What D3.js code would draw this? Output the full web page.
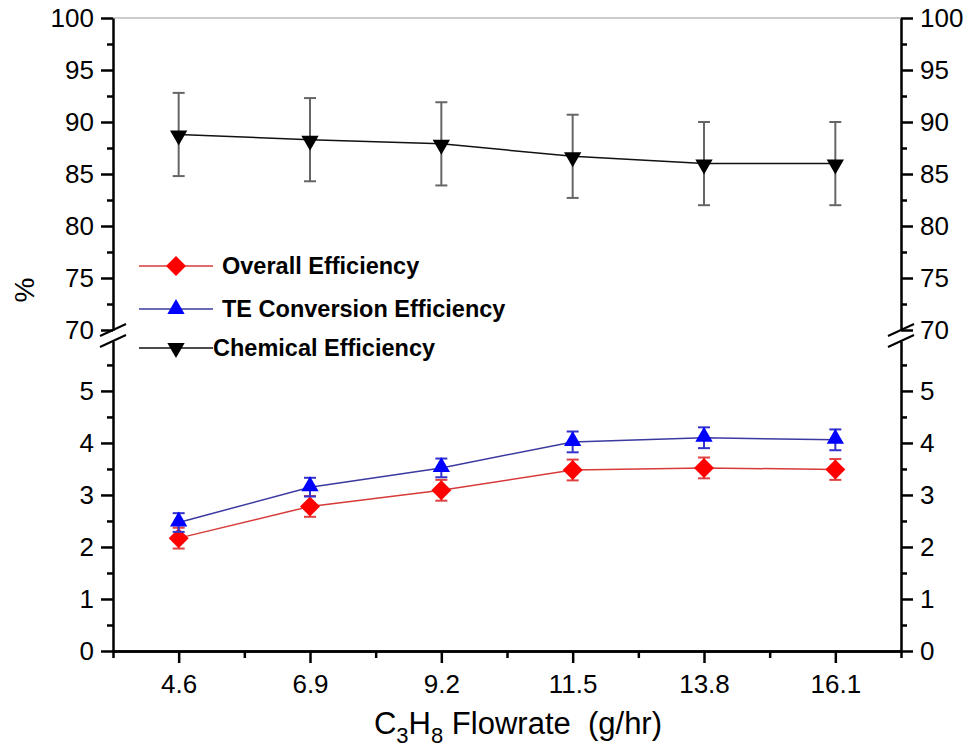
<!DOCTYPE html>
<html>
<head>
<meta charset="utf-8">
<script src="https://cdn.jsdelivr.net/npm/d3@7"></script>
<style>
  body { margin: 0; background: #fff; }
  svg { display: block; font-family: "Liberation Sans", Arial, sans-serif; }
  .axis path, .axis line { stroke: #000; stroke-width: 2.5; }
  .axis text { font-size: 26px; fill: #000; }
</style>
</head>
<body>
<svg id="chart" width="967" height="749"></svg>
<script>
const flowrate = [4.6, 6.9, 9.2, 11.5, 13.8, 16.1];
const overall = [2.17, 2.78, 3.09, 3.48, 3.52, 3.49];
const overallErr = [0.2, 0.2, 0.2, 0.2, 0.2, 0.2];
const teConversion = [2.47, 3.15, 3.52, 4.02, 4.1, 4.06];
const teErr = [0.18, 0.18, 0.18, 0.2, 0.2, 0.2];
const chemical = [88.8, 88.3, 87.9, 86.7, 86.0, 86.0];
const chemicalErr = [4, 4, 4, 4, 4, 4];
const upperTicks = [70, 75, 80, 85, 90, 95, 100];
const upperMinor = [72.5, 77.5, 82.5, 87.5, 92.5, 97.5];
const lowerTicks = [0, 1, 2, 3, 4, 5];
const lowerMinor = [0.5, 1.5, 2.5, 3.5, 4.5, 5.5];
const xMinor = [3.45, 5.75, 8.05, 10.35, 12.65, 14.95, 17.25];
const legendNames = ["Overall Efficiency", "TE Conversion Efficiency", "Chemical Efficiency"];

const svg = d3.select("#chart");
const left = 113, right = 901, bottom = 651;

const x = d3.scaleLinear().domain([3.45, 17.25]).range([left, right]);
const yUp = d3.scaleLinear().domain([70, 100]).range([330, 18]);
const yLow = d3.scaleLinear().domain([0, 5.96]).range([bottom, 341]);

// top frame line
svg.append("line")
  .attr("x1", left).attr("x2", right).attr("y1", 18).attr("y2", 18)
  .attr("stroke", "#999").attr("stroke-width", 1.2);

// x axis
svg.append("g").attr("class", "axis").attr("transform", `translate(0,${bottom})`)
  .call(d3.axisBottom(x).tickValues(flowrate).tickSize(12).tickPadding(12).tickSizeOuter(0)
    .tickFormat(d3.format(".1f")));
svg.append("g").attr("class", "axis").attr("transform", `translate(0,${bottom})`)
  .call(d3.axisBottom(x).tickValues(xMinor).tickSize(7).tickFormat("").tickSizeOuter(0));

function yAxes(pos, side) {
  const make = side === "left" ? d3.axisLeft : d3.axisRight;
  [[yUp, upperTicks, upperMinor], [yLow, lowerTicks, lowerMinor]].forEach(([s, major, minor]) => {
    const g = svg.append("g").attr("class", "axis").attr("transform", `translate(${pos},0)`);
    g.call(make(s).tickValues(major).tickSize(12).tickPadding(7).tickSizeOuter(0).tickFormat(d3.format("d")));
    g.append("g").call(make(s).tickValues(minor).tickSize(6).tickFormat("").tickSizeOuter(0))
      .select(".domain").remove();
  });
  // break marks
  [330, 341].forEach(yb => {
    svg.append("line")
      .attr("x1", pos - 13).attr("y1", yb + 6).attr("x2", pos + 13).attr("y2", yb - 6)
      .attr("stroke", "#000").attr("stroke-width", 2);
  });
}
yAxes(left, "left");
yAxes(right, "right");

// series
const series = [
  { name: legendNames[0], values: overall, err: overallErr, y: yLow, line: "#d83a3a", fill: "#ff0000", bar: "#e04040", shape: "diamond" },
  { name: legendNames[1], values: teConversion, err: teErr, y: yLow, line: "#3a3aa0", fill: "#0000ff", bar: "#3333cc", shape: "up" },
  { name: legendNames[2], values: chemical, err: chemicalErr, y: yUp, line: "#111", fill: "#000", bar: "#666", shape: "down" }
];

function symbolPath(shape) {
  if (shape === "diamond") return d3.symbol(d3.symbolSquare, 200)();
  return d3.symbol(d3.symbolTriangle, 130)();
}
function symbolRotate(shape) {
  return shape === "diamond" ? 45 : shape === "down" ? 180 : 0;
}

series.forEach(s => {
  const g = svg.append("g");
  const pts = flowrate.map((f, i) => ({ x: f, v: s.values[i], e: s.err[i] }));

  const bars = g.selectAll(".err").data(pts).enter().append("g").attr("stroke", s.bar).attr("stroke-width", 2);
  bars.append("line")
    .attr("x1", d => x(d.x)).attr("x2", d => x(d.x))
    .attr("y1", d => s.y(d.v + d.e)).attr("y2", d => s.y(d.v - d.e));
  [1, -1].forEach(k => {
    bars.append("line")
      .attr("x1", d => x(d.x) - 6).attr("x2", d => x(d.x) + 6)
      .attr("y1", d => s.y(d.v + k * d.e)).attr("y2", d => s.y(d.v + k * d.e));
  });

  g.append("path").datum(pts)
    .attr("fill", "none").attr("stroke", s.line).attr("stroke-width", 1.5)
    .attr("d", d3.line().x(d => x(d.x)).y(d => s.y(d.v)));

  g.selectAll(".mk").data(pts).enter().append("path")
    .attr("d", symbolPath(s.shape))
    .attr("fill", s.fill)
    .attr("transform", d => `translate(${x(d.x)},${s.y(d.v) + (s.shape === "up" ? -1 : s.shape === "down" ? 1 : 0)}) rotate(${symbolRotate(s.shape)})`);
});

// legend
const legendRows = [266, 309, 348];
series.forEach((s, i) => {
  const g = svg.append("g").attr("transform", `translate(0,${legendRows[i]})`);
  g.append("line").attr("x1", 139).attr("x2", 213).attr("y1", 0).attr("y2", 0)
    .attr("stroke", s.line).attr("stroke-width", 1.5);
  g.append("path").attr("d", symbolPath(s.shape)).attr("fill", s.fill)
    .attr("transform", `translate(176,0) rotate(${symbolRotate(s.shape)})`);
  g.append("text").attr("x", i === 2 ? 213 : 222).attr("y", 8)
    .attr("font-size", 23.5).attr("font-weight", "bold").attr("fill", "#000")
    .text(s.name);
});

// axis titles
svg.append("text")
  .attr("transform", "translate(34,290) rotate(-90)")
  .attr("text-anchor", "middle").attr("font-size", 28).text("%");

const xt = svg.append("text").attr("x", 518).attr("y", 734)
  .attr("text-anchor", "middle").attr("font-size", 31);
xt.append("tspan").text("C");
xt.append("tspan").attr("font-size", 22).attr("dy", 9).text("3");
xt.append("tspan").attr("dy", -9).text("H");
xt.append("tspan").attr("font-size", 22).attr("dy", 9).text("8");
xt.append("tspan").attr("dy", -9).text(" Flowrate\u00a0 (g/hr)");
</script>
</body>
</html>
